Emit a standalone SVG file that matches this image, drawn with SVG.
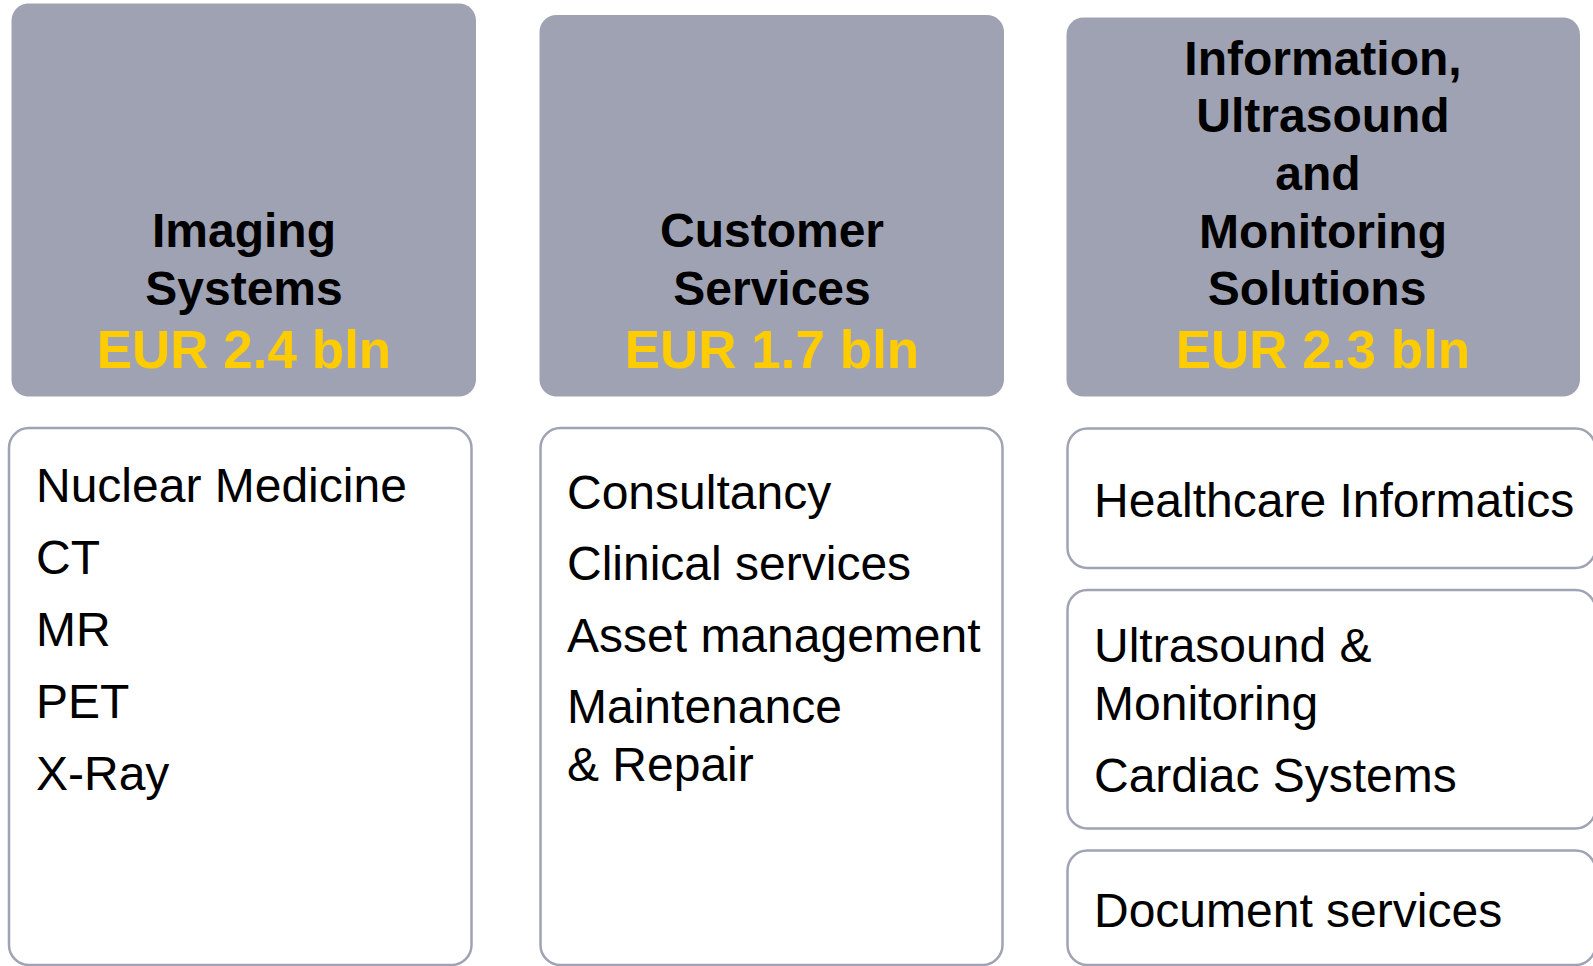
<svg xmlns="http://www.w3.org/2000/svg" width="1593" height="966" viewBox="0 0 1593 966">
  <style>
    .head { fill: #9fa2b3; }
    .frame { fill: #ffffff; stroke: #a0a3b4; stroke-width: 2.5; }
    .title { font-family: "Liberation Sans", Arial, sans-serif; font-weight: bold; font-size: 48px; fill: #000000; text-anchor: middle; }
    .value { font-family: "Liberation Sans", Arial, sans-serif; font-weight: bold; font-size: 53px; fill: #ffcc00; text-anchor: middle; }
    .item { font-family: "Liberation Sans", Arial, sans-serif; font-size: 48px; fill: #000000; }
  </style>
  <rect x="0" y="0" width="1593" height="966" fill="#ffffff"/>

  <!-- Segment headers -->
  <g id="imaging-systems">
    <rect class="head" x="11.5" y="3.5" width="464.5" height="393" rx="17" ry="17"/>
    <text class="title" x="244" y="247">Imaging</text>
    <text class="title" x="244" y="304.5">Systems</text>
    <text class="value" x="244" y="368">EUR 2.4 bln</text>
  </g>
  <g id="customer-services">
    <rect class="head" x="539.5" y="15" width="464.5" height="381.5" rx="17" ry="17"/>
    <text class="title" x="772" y="247">Customer</text>
    <text class="title" x="772" y="304.5">Services</text>
    <text class="value" x="772" y="368">EUR 1.7 bln</text>
  </g>
  <g id="information-ultrasound-monitoring">
    <rect class="head" x="1066.5" y="17.5" width="513.5" height="379" rx="17" ry="17"/>
    <text class="title" x="1323" y="75">Information,</text>
    <text class="title" x="1323" y="132">Ultrasound</text>
    <text class="title" x="1318" y="190">and</text>
    <text class="title" x="1323" y="248">Monitoring</text>
    <text class="title" x="1317" y="305">Solutions</text>
    <text class="value" x="1323" y="368">EUR 2.3 bln</text>
  </g>

  <!-- Product line lists -->
  <g id="imaging-products">
    <rect class="frame" x="9" y="428" width="462.5" height="537" rx="20" ry="20"/>
    <text class="item" x="36" y="502">Nuclear Medicine</text>
    <text class="item" x="36" y="574">CT</text>
    <text class="item" x="36" y="646">MR</text>
    <text class="item" x="36" y="717.5">PET</text>
    <text class="item" x="36" y="789.5">X-Ray</text>
  </g>
  <g id="service-products">
    <rect class="frame" x="540.5" y="428" width="462" height="537" rx="20" ry="20"/>
    <text class="item" x="567" y="508.5">Consultancy</text>
    <text class="item" x="567" y="580">Clinical services</text>
    <text class="item" x="567" y="651.5">Asset management</text>
    <text class="item" x="567" y="722.5">Maintenance</text>
    <text class="item" x="567" y="780.5">&amp; Repair</text>
  </g>
  <g id="healthcare-informatics">
    <rect class="frame" x="1067.5" y="428.5" width="528" height="139.5" rx="20" ry="20"/>
    <text class="item" x="1094" y="516.5">Healthcare Informatics</text>
  </g>
  <g id="ultrasound-monitoring">
    <rect class="frame" x="1067.5" y="590" width="528" height="238.5" rx="20" ry="20"/>
    <text class="item" x="1094" y="662">Ultrasound &amp;</text>
    <text class="item" x="1094" y="719.5">Monitoring</text>
    <text class="item" x="1094" y="791.5">Cardiac Systems</text>
  </g>
  <g id="document-services">
    <rect class="frame" x="1067.5" y="850.5" width="528" height="114.5" rx="20" ry="20"/>
    <text class="item" x="1094" y="927">Document services</text>
  </g>

  <!-- No connectors are drawn between the blocks -->
  <g id="connectors"/>
</svg>
